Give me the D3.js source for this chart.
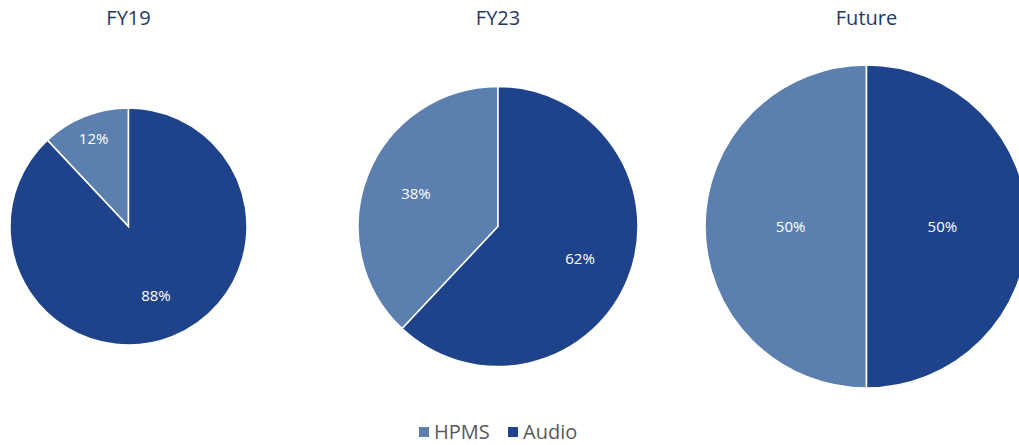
<!DOCTYPE html>
<html>
<head>
<meta charset="utf-8">
<script src="https://cdn.jsdelivr.net/npm/d3@7"></script>
<style>
  body { margin: 0; background: #fff; }
  svg { display: block; font-family: "Open Sans", sans-serif; }
</style>
</head>
<body>
<svg id="chart"></svg>
<script>
const width = 1019;
const height = 445;

// data
const periods = ["FY19", "FY23", "Future"];
const segments = ["HPMS", "Audio"];
const hpmsShare = [12, 38, 50];
const audioShare = [88, 62, 50];

const colors = ["#5b7fae", "#1f438a"];

// pie sizes grow left to right
const centersX = [128.5, 498, 866.5];
const radii = [118.5, 140, 161.5];
const centerY = 226.5;

let svg = d3.select("#chart")
  .attr("width", width)
  .attr("height", height);

const color = d3.scaleOrdinal()
  .domain(segments)
  .range(colors);

periods.forEach(function (period, i) {
    const values = [
        { name: "HPMS", value: hpmsShare[i] },
        { name: "Audio", value: audioShare[i] }
    ];
    const total = d3.sum(values, d => d.value);
    const start = -2 * Math.PI * values[0].value / total;

    const pie = d3.pie()
        .sort(null)
        .value(d => d.value)
        .startAngle(start)
        .endAngle(start + 2 * Math.PI);

    const r = radii[i];
    const arc = d3.arc().innerRadius(0).outerRadius(r);

    const g = svg.append("g")
        .attr("transform", `translate(${centersX[i]}, ${centerY})`);

    const arcs = pie(values);

    g.selectAll("path")
        .data(arcs)
        .enter()
        .append("path")
        .attr("d", arc)
        .attr("fill", d => color(d.data.name))
        .attr("stroke", "#fff")
        .attr("stroke-width", 1.5);

    // label placement like excel "best fit": small slices pushed outward
    g.selectAll("text")
        .data(arcs)
        .enter()
        .append("text")
        .attr("transform", function (d) {
            const p = d.value / total;
            const k = p < 0.2 ? 0.8 : (p === 0.5 ? 0.47 : 0.63);
            const la = d3.arc().innerRadius(r * k).outerRadius(r * k);
            const c = la.centroid(d);
            return `translate(${c[0]}, ${c[1]})`;
        })
        .attr("text-anchor", "middle")
        .attr("dy", "0.35em")
        .attr("fill", "#fff")
        .attr("font-size", "15px")
        .text(d => d.value + "%");

    svg.append("text")
        .attr("x", centersX[i])
        .attr("y", 25)
        .attr("text-anchor", "middle")
        .attr("fill", "#1f3864")
        .attr("font-size", "20px")
        .text(period);
});

// legend
const legend = svg.append("g");
const legendX = [419, 508];
segments.forEach(function (s, i) {
    legend.append("rect")
        .attr("x", legendX[i])
        .attr("y", 427)
        .attr("width", 10)
        .attr("height", 10)
        .attr("fill", color(s));
    legend.append("text")
        .attr("x", legendX[i] + 15)
        .attr("y", 439)
        .attr("fill", "#595959")
        .attr("font-size", "20px")
        .text(s);
});
</script>
</body>
</html>
